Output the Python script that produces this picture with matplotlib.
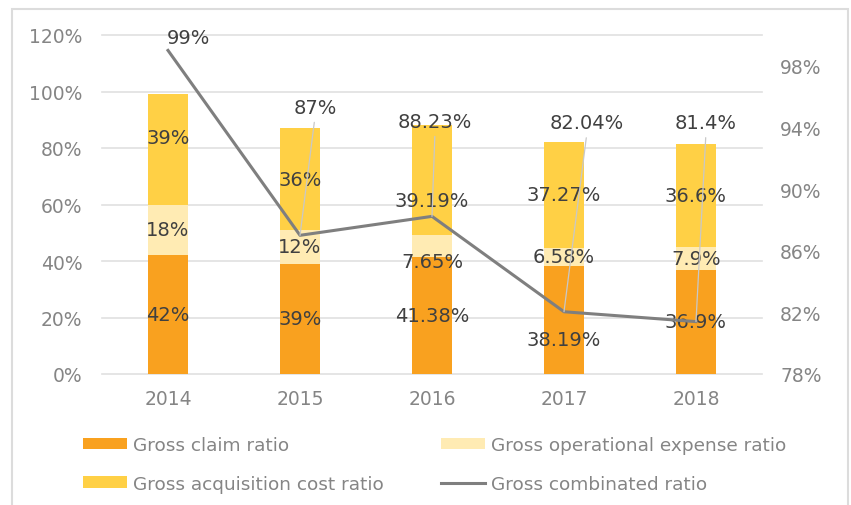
import matplotlib
matplotlib.use("Agg")
import matplotlib.pyplot as plt
import numpy as np
from matplotlib.patches import Rectangle

# data
years = ["2014", "2015", "2016", "2017", "2018"]
claim_ratio = [42, 39, 41.38, 38.19, 36.9]
opex_ratio = [18, 12, 7.65, 6.58, 7.9]
acq_ratio = [39, 36, 39.19, 37.27, 36.6]
combined_ratio = [99, 87, 88.23, 82.04, 81.4]

claim_text = ["42%", "39%", "41.38%", "38.19%", "36.9%"]
opex_text = ["18%", "12%", "7.65%", "6.58%", "7.9%"]
acq_text = ["39%", "36%", "39.19%", "37.27%", "36.6%"]
combined_text = ["99%", "87%", "88.23%", "82.04%", "81.4%"]

C_CLAIM = "#F9A11F"
C_OPEX = "#FFEBB3"
C_ACQ = "#FFD045"
C_LINE = "#7F7F7F"
C_TEXT = "#404040"
C_TICK = "#858585"
C_GRID = "#E0E0E0"

plt.rcParams["font.family"] = ["DejaVu Sans"]

fig = plt.figure(figsize=(8.51, 5.06), dpi=100)
ax = fig.add_axes([102 / 851, 1 - 375 / 506, 660 / 851, 339 / 506])
ax2 = ax.twinx()

x = np.arange(len(years))
w = 0.31
claim = np.array(claim_ratio)
opex = np.array(opex_ratio)
acq = np.array(acq_ratio)

ax.bar(x, claim, w, color=C_CLAIM, zorder=2, label="Gross claim ratio")
ax.bar(x, opex, w, bottom=claim, color=C_OPEX, zorder=2, label="Gross operational expense ratio")
ax.bar(x, acq, w, bottom=claim + opex, color=C_ACQ, zorder=2, label="Gross acquisition cost ratio")

ax.set_xlim(-0.5, len(years) - 0.5)
ax.set_ylim(0, 120)
ax.set_yticks(np.arange(0, 121, 20))
ax.set_yticklabels([f"{v}%" for v in range(0, 121, 20)])
ax.set_xticks(x)
ax.set_xticklabels(years)
ax.grid(axis="y", color=C_GRID, lw=1.2, zorder=0, clip_on=False)
ax.set_axisbelow(True)
for s in ax.spines.values():
    s.set_visible(False)
ax.tick_params(axis="both", length=0, colors=C_TICK, labelsize=13.5)
ax.tick_params(axis="y", pad=14)
ax.tick_params(axis="x", pad=11)

# stacked segment labels (pixel nudges where the reference moved them)
nudge = {("acq", 0): (0, 12), ("opex", 2): (0, -15), ("acq", 2): (0, -20),
         ("claim", 3): (0, -19)}
segs = [("claim", claim, np.zeros_like(claim), claim_text),
        ("opex", opex, claim, opex_text),
        ("acq", acq, claim + opex, acq_text)]
for name, vals, base, texts in segs:
    for i in range(len(years)):
        dx, dy = nudge.get((name, i), (0, 0))
        ax.annotate(texts[i], (x[i], base[i] + vals[i] / 2), xytext=(dx, dy),
                    textcoords="offset pixels", ha="center", va="center",
                    fontsize=14, color=C_TEXT, zorder=3)

# combined ratio on the right axis
ax2.plot(x, combined_ratio, color=C_LINE, lw=2.2, zorder=4, label="Gross combinated ratio")
ax2.set_ylim(78, 100)
ax2.set_yticks(np.arange(78, 99, 4))
ax2.set_yticklabels([f"{v}%" for v in range(78, 99, 4)])
for s in ax2.spines.values():
    s.set_visible(False)
ax2.tick_params(axis="y", length=0, colors=C_TICK, labelsize=13.5, pad=13)

line_offsets = [(20, 13), (15, 128), (3, 95), (23, 189), (10, 199)]
for i in range(len(years)):
    dx, dy = line_offsets[i]
    props = None
    if i > 0:
        props = dict(arrowstyle="-", color="#C8C8C8", lw=0.9,
                     shrinkA=2, shrinkB=0, relpos=(0.5, 0.0))
    ax2.annotate(combined_text[i], (x[i], combined_ratio[i]), xytext=(dx, dy),
                 textcoords="offset pixels", ha="center", va="center",
                 fontsize=14, color=C_TEXT, arrowprops=props, zorder=5)

# legend below the plot
h1, l1 = ax.get_legend_handles_labels()
h2, l2 = ax2.get_legend_handles_labels()
handles = [h1[0], h1[2], h1[1], h2[0]]
labels = [l1[0], l1[2], l1[1], l2[0]]
fig.legend(handles, labels, ncol=2, loc="upper left",
           bbox_to_anchor=(83 / 851, 1 - 437 / 506), frameon=False,
           fontsize=13.3, labelcolor=C_TICK, handlelength=2.4, handleheight=0.6,
           handletextpad=0.3, columnspacing=3.1, labelspacing=1.12,
           borderpad=0, borderaxespad=0)

# light frame around the chart area
fig.patches.append(Rectangle((12 / 851, -0.1), 836 / 851, 1.1 - 10 / 506,
                             transform=fig.transFigure, fill=False,
                             edgecolor="#DCDCDC", lw=1.5))

fig.savefig("out.png", dpi=100)
